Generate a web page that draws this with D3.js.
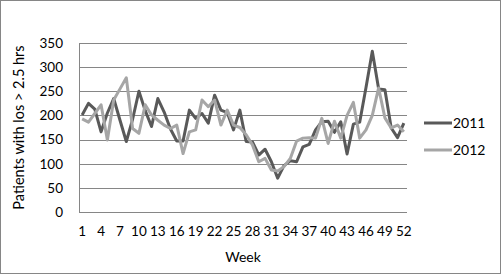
<!DOCTYPE html>
<html>
<head>
<meta charset="utf-8">
<script src="https://cdn.jsdelivr.net/npm/d3@7"></script>
<style>
  body { margin: 0; background: #fff; }
  text { font-family: Lato, "Open Sans", sans-serif; fill: #000; }
</style>
</head>
<body>
<script>
// weekly counts
var weeks = d3.range(1, 53);
var s2011 = [201, 225, 213, 166, 205, 235, 190, 146, 192, 250, 210, 177, 235, 207, 172, 147, 147, 211, 194, 204,
             184, 242, 211, 206, 170, 211, 146, 145, 118, 130, 104, 70, 96, 106, 104, 135, 140, 170, 187, 188,
             165, 187, 120, 182, 186, 258, 333, 255, 253, 174, 154, 184];
var s2012 = [193, 186, 204, 222, 149, 232, 255, 278, 173, 163, 222, 201, 190, 180, 173, 180, 121, 166, 170, 232,
             218, 232, 180, 211, 180, 175, 160, 139, 104, 111, 87, 85, 94, 111, 147, 153, 154, 153, 194, 142,
             188, 153, 200, 227, 153, 170, 200, 257, 195, 174, 180, 166];
var seriesNames = ["2011", "2012"];
var seriesColors = ["#595959", "#a6a6a6"];
var yTicks = [0, 50, 100, 150, 200, 250, 300, 350];

var W = 501, H = 274;
var margin = {top: 43, right: 94, bottom: 62, left: 79};
var width = W - margin.left - margin.right;
var height = H - margin.top - margin.bottom;

var svg = d3.select("body").append("svg")
    .attr("width", W)
    .attr("height", H);

// outer chart border
svg.append("rect")
    .attr("x", 0.5).attr("y", 0.5)
    .attr("width", W - 1).attr("height", H - 1)
    .attr("fill", "#fff")
    .attr("stroke", "#868686");

var g = svg.append("g")
    .attr("transform", "translate(" + margin.left + "," + margin.top + ")");

var xBand = d3.scaleBand().domain(weeks).range([0, width]);
var x = function(w) { return xBand(w) + xBand.bandwidth() / 2; };
var y = d3.scaleLinear().domain([0, 350]).range([height, 0]);

// gridlines
g.selectAll(".grid").data(yTicks).enter().append("line")
    .attr("x1", 0).attr("x2", width)
    .attr("y1", function(d) { return Math.round(y(d)) + 0.5; })
    .attr("y2", function(d) { return Math.round(y(d)) + 0.5; })
    .attr("stroke", "#868686");

// y axis
var yAxis = g.append("g")
    .call(d3.axisLeft(y).tickValues(yTicks).tickSize(0).tickPadding(16));
yAxis.select(".domain").attr("stroke", "#868686").attr("d", "M0.5,0V" + height);
yAxis.selectAll("text").style("font-size", "13.5px");

// x axis
var xAxis = g.append("g")
    .attr("transform", "translate(0," + height + ")")
    .call(d3.axisBottom(xBand).tickValues(weeks.filter(function(w) { return (w - 1) % 3 === 0; }))
        .tickSize(0).tickPadding(14));
xAxis.select(".domain").remove();
xAxis.selectAll("text").style("font-size", "13.5px");

var line = d3.line()
    .x(function(d, i) { return x(weeks[i]); })
    .y(function(d) { return y(d); });

[s2011, s2012].forEach(function(s, i) {
  g.append("path")
      .datum(s)
      .attr("fill", "none")
      .attr("stroke", seriesColors[i])
      .attr("stroke-width", 3)
      .attr("stroke-linejoin", "round")
      .attr("d", line);
});

// axis titles
svg.append("text")
    .attr("transform", "translate(24," + (margin.top + height / 2) + ") rotate(-90)")
    .style("text-anchor", "middle")
    .style("font-size", "14.5px")
    .text("Patients with los > 2.5 hrs");

svg.append("text")
    .attr("x", margin.left + width / 2)
    .attr("y", 262)
    .style("text-anchor", "middle")
    .style("font-size", "14px")
    .text("Week");

// legend
var legend = svg.selectAll(".legend").data(seriesNames).enter().append("g")
    .attr("transform", function(d, i) { return "translate(424," + (123 + i * 27) + ")"; });
legend.append("line")
    .attr("x1", 0).attr("x2", 28)
    .attr("stroke", function(d, i) { return seriesColors[i]; })
    .attr("stroke-width", 3);
legend.append("text")
    .attr("x", 29).attr("y", 5)
    .style("font-size", "14px")
    .text(function(d) { return d; });
</script>
</body>
</html>
